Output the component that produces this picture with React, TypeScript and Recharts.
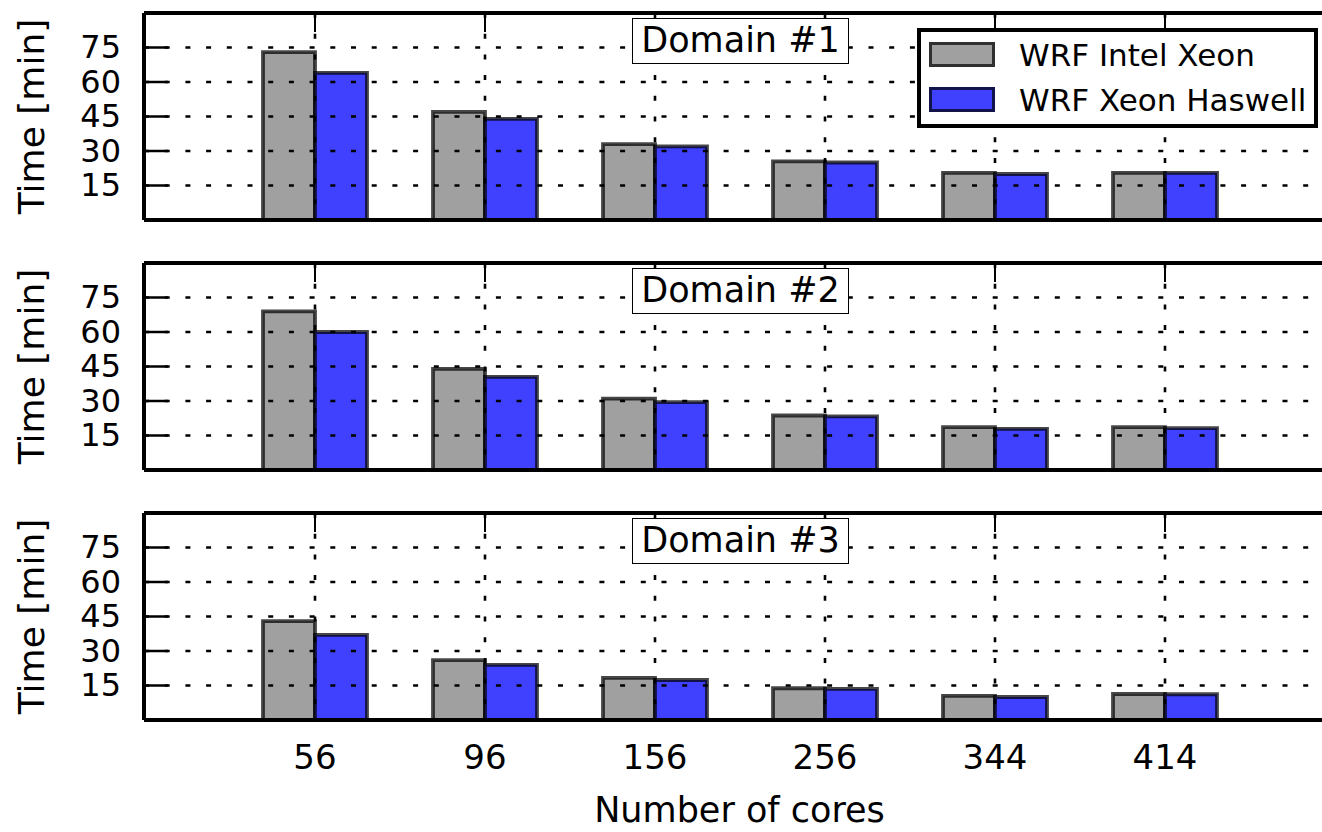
import React from 'react';
import { BarChart, Bar, XAxis, YAxis, CartesianGrid } from 'recharts';

const cores = ['56', '96', '156', '256', '344', '414'];
const domainNames = ['Domain #1', 'Domain #2', 'Domain #3'];
const seriesNames = ['WRF Intel Xeon', 'WRF Xeon Haswell'];

// time in minutes
const intelXeon1 = [73, 47, 33, 25.5, 20.5, 20.5];
const haswell1 = [64, 44, 32, 25, 20, 20.5];
const intelXeon2 = [69, 44, 31, 23.7, 18.6, 18.6];
const haswell2 = [60, 40.5, 29.5, 23.3, 17.9, 18.2];
const intelXeon3 = [43, 26, 18.3, 13.8, 10.5, 11.3];
const haswell3 = [37, 24, 17.4, 13.5, 10, 11.2];

const yTicks = [15, 30, 45, 60, 75];

const font = '"DejaVu Sans", sans-serif';
const colors = { intel: '#a0a0a0', haswell: '#4040ff', edge: '#000' };

const CHART_W = 1345;
const PLOT_TOP = 13;
const PLOT_H = 207;
const Y_W = 144;
const xPadding = { left: 86, right: 85 };

const makeRows = (a: number[], b: number[]) =>
  cores.map((c, i) => ({ cores: c, intel: a[i], haswell: b[i] }));

const panels = [
  makeRows(intelXeon1, haswell1),
  makeRows(intelXeon2, haswell2),
  makeRows(intelXeon3, haswell3),
];

// y ticks point inward, labels sit left of the spine
const YTick = (props: any) => {
  const { x, y, payload } = props;
  return (
    <g>
      <line x1={x} x2={x + 24} y1={y} y2={y} stroke="#000" strokeWidth={2.5} />
      <text x={x - 23} y={y} dy="0.33em" textAnchor="end" fontSize={32} fontFamily={font} fill="#000">
        {payload.value}
      </text>
    </g>
  );
};

const TopTick = (props: any) => {
  const { x, y } = props;
  return <line x1={x} x2={x} y1={y} y2={y + 19} stroke="#000" strokeWidth={2} />;
};

const NoTick = () => <g />;

const Panel = ({ index }: { index: number }) => {
  const data = panels[index];
  const last = index === panels.length - 1;
  const xHeight = last ? 112 : 12;
  const height = PLOT_TOP + PLOT_H + xHeight;
  const top = index * 250;
  const margin = { top: PLOT_TOP - 1, right: 10, bottom: 0, left: 0 };

  return (
    <>
      <div style={{ position: 'absolute', left: 0, top }}>
        <BarChart width={CHART_W} height={height} data={data} margin={margin} barGap={0}>
          <XAxis
            dataKey="cores"
            padding={xPadding}
            height={xHeight}
            axisLine={{ stroke: '#000', strokeWidth: 4 }}
            tickLine={false}
            tickSize={0}
            tickMargin={25}
            tick={last ? { fill: '#000', fontSize: 34, fontFamily: font } : false}
            label={
              last
                ? {
                    value: 'Number of cores',
                    position: 'insideBottom',
                    offset: 10,
                    style: { fontSize: 35, fontFamily: font, fill: '#000' },
                  }
                : undefined
            }
          />
          <XAxis
            xAxisId="top"
            orientation="top"
            dataKey="cores"
            padding={xPadding}
            height={1}
            axisLine={{ stroke: '#000', strokeWidth: 4 }}
            tickLine={false}
            tickSize={0}
            tickMargin={0}
            tick={<TopTick />}
          />
          <YAxis
            width={Y_W}
            domain={[0, 90]}
            ticks={yTicks}
            axisLine={{ stroke: '#000', strokeWidth: 4 }}
            tickLine={false}
            tickSize={0}
            tickMargin={0}
            tick={<YTick />}
            label={{
              value: 'Time [min]',
              angle: -90,
              position: 'insideLeft',
              offset: 31,
              style: { textAnchor: 'middle', fontSize: 36, fontFamily: font, fill: '#000' },
            }}
          />
          <Bar
            dataKey="intel"
            name={seriesNames[0]}
            fill={colors.intel}
            stroke={colors.edge}
            strokeOpacity={0.72}
            strokeWidth={3.8}
            barSize={52}
            isAnimationActive={false}
          />
          <Bar
            dataKey="haswell"
            name={seriesNames[1]}
            fill={colors.haswell}
            stroke={colors.edge}
            strokeOpacity={0.72}
            strokeWidth={3.8}
            barSize={52}
            isAnimationActive={false}
          />
        </BarChart>
      </div>
      {/* grid sits on top of the bars, like the original */}
      <div style={{ position: 'absolute', left: 0, top, pointerEvents: 'none' }}>
        <BarChart width={CHART_W} height={height} data={data} margin={margin} barGap={0}>
          <XAxis dataKey="cores" padding={xPadding} height={xHeight} axisLine={false} tickLine={false} tick={<NoTick />} />
          <XAxis xAxisId="top" orientation="top" dataKey="cores" padding={xPadding} height={1} axisLine={false} tickLine={false} tick={<NoTick />} />
          <YAxis width={Y_W} domain={[0, 90]} ticks={yTicks} axisLine={false} tickLine={false} tick={<NoTick />} />
          <CartesianGrid stroke="#000" strokeWidth={2.6} strokeDasharray="5 15.7" />
          <Bar dataKey="intel" fill="none" stroke="none" barSize={52} legendType="none" isAnimationActive={false} />
          <Bar dataKey="haswell" fill="none" stroke="none" barSize={52} legendType="none" isAnimationActive={false} />
        </BarChart>
      </div>
      <div
        style={{
          position: 'absolute',
          left: 632,
          top: top + PLOT_TOP + 5,
          width: 217,
          height: 46,
          boxSizing: 'border-box',
          border: '1.5px solid #000',
          background: '#fff',
          fontFamily: font,
          fontSize: 35,
          lineHeight: '43px',
          textAlign: 'center',
          color: '#000',
        }}
      >
        {domainNames[index]}
      </div>
    </>
  );
};

const LegendBox = () => {
  const swatches = [colors.intel, colors.haswell];
  return (
    <div
      style={{
        position: 'absolute',
        left: 917,
        top: 28,
        width: 401,
        height: 100,
        boxSizing: 'border-box',
        border: '4px solid #000',
        background: '#fff',
        fontFamily: font,
        fontSize: 31,
        color: '#000',
      }}
    >
      {seriesNames.map((name, i) => (
        <div key={name}>
          <div
            style={{
              position: 'absolute',
              left: 8,
              top: 10 + i * 45,
              width: 66,
              height: 25,
              boxSizing: 'border-box',
              background: swatches[i],
              border: '3.5px solid rgba(0,0,0,0.7)',
            }}
          />
          <div style={{ position: 'absolute', left: 98, top: 3 + i * 45, lineHeight: '40px', whiteSpace: 'nowrap' }}>
            {name}
          </div>
        </div>
      ))}
    </div>
  );
};

export default function App() {
  return (
    <div
      style={{
        position: 'fixed',
        left: 0,
        top: 0,
        width: 1322,
        height: 832,
        overflow: 'hidden',
        background: '#fff',
      }}
    >
      {panels.map((_, i) => (
        <Panel key={i} index={i} />
      ))}
      <LegendBox />
    </div>
  );
}
